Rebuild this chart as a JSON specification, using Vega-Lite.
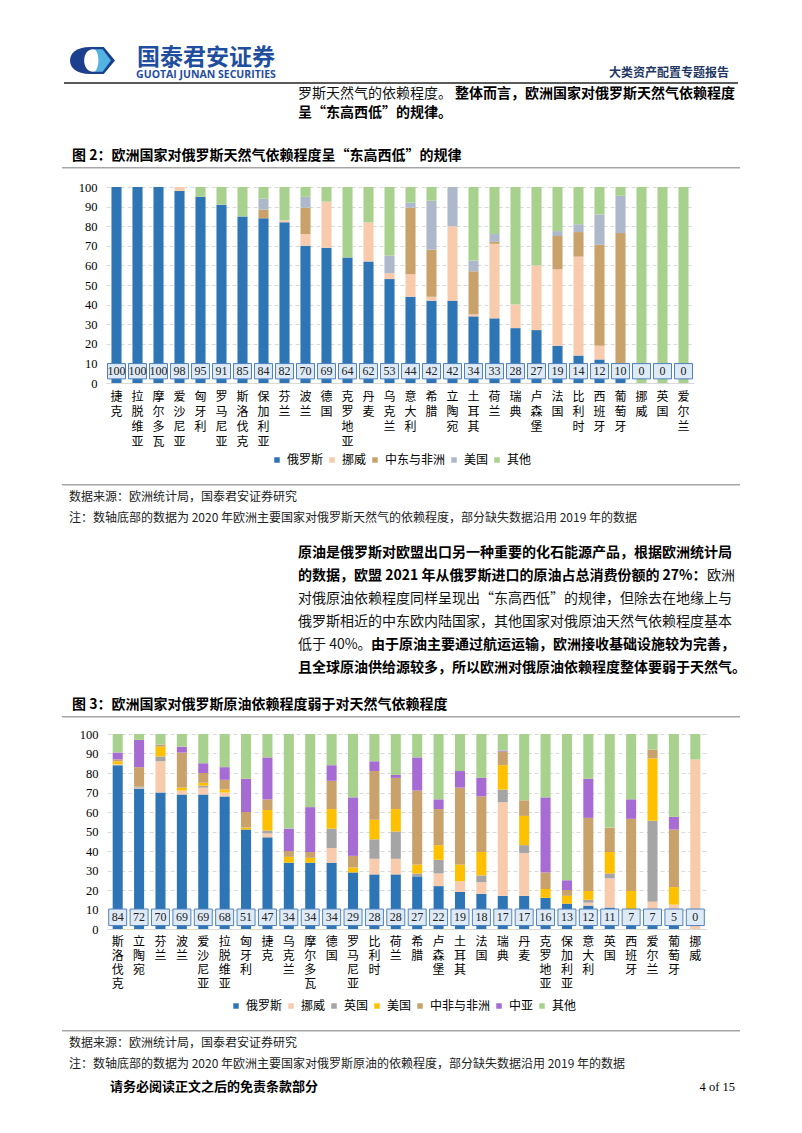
{
  "$schema": "https://vega.github.io/schema/vega-lite/v6.json",
  "background": "white",
  "padding": {"left": 62, "top": 43, "right": 0, "bottom": 0},
  "config": {
    "view": {"stroke": null},
    "font": "Noto Sans CJK SC",
    "concat": {"spacing": 0}
  },
  "resolve": {"scale": {"color": "independent"}, "legend": {"color": "independent"}},
  "datasets": {
    "gasSources": [
      {"source": "俄罗斯", "k": 1}, {"source": "挪威", "k": 2}, {"source": "中东与非洲", "k": 3},
      {"source": "美国", "k": 4}, {"source": "其他", "k": 5}
    ],
    "oilSources": [
      {"source": "俄罗斯", "k": 1}, {"source": "挪威", "k": 2}, {"source": "英国", "k": 3},
      {"source": "美国", "k": 4}, {"source": "中非与非洲", "k": 5}, {"source": "中亚", "k": 6}, {"source": "其他", "k": 7}
    ],
    "gas": [
      {"c": "捷克", "俄罗斯": 100, "挪威": 0, "中东与非洲": 0, "美国": 0, "其他": 0},
      {"c": "拉脱维亚", "俄罗斯": 100, "挪威": 0, "中东与非洲": 0, "美国": 0, "其他": 0},
      {"c": "摩尔多瓦", "俄罗斯": 100, "挪威": 0, "中东与非洲": 0, "美国": 0, "其他": 0},
      {"c": "爱沙尼亚", "俄罗斯": 98, "挪威": 2, "中东与非洲": 0, "美国": 0, "其他": 0},
      {"c": "匈牙利", "俄罗斯": 95, "挪威": 0, "中东与非洲": 0, "美国": 0, "其他": 5},
      {"c": "罗马尼亚", "俄罗斯": 91, "挪威": 0, "中东与非洲": 0, "美国": 0, "其他": 9},
      {"c": "斯洛伐克", "俄罗斯": 85, "挪威": 0, "中东与非洲": 0, "美国": 0, "其他": 15},
      {"c": "保加利亚", "俄罗斯": 84, "挪威": 0, "中东与非洲": 4.5, "美国": 5.5, "其他": 6},
      {"c": "芬兰", "俄罗斯": 82, "挪威": 1, "中东与非洲": 0, "美国": 0, "其他": 17},
      {"c": "波兰", "俄罗斯": 70, "挪威": 6, "中东与非洲": 13.5, "美国": 5.5, "其他": 5},
      {"c": "德国", "俄罗斯": 69, "挪威": 23.5, "中东与非洲": 0, "美国": 0, "其他": 7.5},
      {"c": "克罗地亚", "俄罗斯": 64, "挪威": 0, "中东与非洲": 0, "美国": 0, "其他": 36},
      {"c": "丹麦", "俄罗斯": 62, "挪威": 20, "中东与非洲": 0, "美国": 0, "其他": 18},
      {"c": "乌克兰", "俄罗斯": 53, "挪威": 3, "中东与非洲": 0, "美国": 9, "其他": 35},
      {"c": "意大利", "俄罗斯": 44, "挪威": 11.5, "中东与非洲": 34, "美国": 2.5, "其他": 8},
      {"c": "希腊", "俄罗斯": 42, "挪威": 2, "中东与非洲": 24, "美国": 25, "其他": 7},
      {"c": "立陶宛", "俄罗斯": 42, "挪威": 38, "中东与非洲": 0, "美国": 20, "其他": 0},
      {"c": "土耳其", "俄罗斯": 34, "挪威": 1, "中东与非洲": 22, "美国": 5.5, "其他": 37.5},
      {"c": "荷兰", "俄罗斯": 33, "挪威": 38, "中东与非洲": 1, "美国": 4, "其他": 24},
      {"c": "瑞典", "俄罗斯": 28, "挪威": 12, "中东与非洲": 0, "美国": 0, "其他": 60},
      {"c": "卢森堡", "俄罗斯": 27, "挪威": 33, "中东与非洲": 0, "美国": 0, "其他": 40},
      {"c": "法国", "俄罗斯": 19, "挪威": 39, "中东与非洲": 17, "美国": 2.5, "其他": 22.5},
      {"c": "比利时", "俄罗斯": 14, "挪威": 50.5, "中东与非洲": 12.5, "美国": 4, "其他": 19},
      {"c": "西班牙", "俄罗斯": 12, "挪威": 7, "中东与非洲": 51.5, "美国": 15.5, "其他": 14},
      {"c": "葡萄牙", "俄罗斯": 10, "挪威": 0, "中东与非洲": 66.5, "美国": 19, "其他": 4.5},
      {"c": "挪威", "俄罗斯": 0, "挪威": 0, "中东与非洲": 0, "美国": 0, "其他": 100},
      {"c": "英国", "俄罗斯": 0, "挪威": 0, "中东与非洲": 0, "美国": 0, "其他": 100},
      {"c": "爱尔兰", "俄罗斯": 0, "挪威": 0, "中东与非洲": 0, "美国": 0, "其他": 100}
    ],
    "oil": [
      {"c": "斯洛伐克", "俄罗斯": 84, "挪威": 0.5, "英国": 0, "美国": 1.5, "中非与非洲": 1, "中亚": 3.5, "其他": 9.5},
      {"c": "立陶宛", "俄罗斯": 72, "挪威": 0.5, "英国": 0.5, "美国": 0, "中非与非洲": 10, "中亚": 14, "其他": 3},
      {"c": "芬兰", "俄罗斯": 70, "挪威": 16, "英国": 2.5, "美国": 5, "中非与非洲": 1, "中亚": 0, "其他": 5.5},
      {"c": "波兰", "俄罗斯": 69, "挪威": 2, "英国": 0, "美国": 1.5, "中非与非洲": 18, "中亚": 3, "其他": 6.5},
      {"c": "爱沙尼亚", "俄罗斯": 69, "挪威": 3.5, "英国": 1, "美国": 1.5, "中非与非洲": 5, "中亚": 5, "其他": 15},
      {"c": "拉脱维亚", "俄罗斯": 68, "挪威": 2, "英国": 0, "美国": 1.5, "中非与非洲": 5, "中亚": 6.5, "其他": 17},
      {"c": "匈牙利", "俄罗斯": 51, "挪威": 0, "英国": 0, "美国": 1, "中非与非洲": 8, "中亚": 17, "其他": 23},
      {"c": "捷克", "俄罗斯": 47, "挪威": 2, "英国": 1.5, "美国": 10.5, "中非与非洲": 5.5, "中亚": 21.5, "其他": 12},
      {"c": "乌克兰", "俄罗斯": 34, "挪威": 0, "英国": 0, "美国": 3, "中非与非洲": 3, "中亚": 11.5, "其他": 48.5},
      {"c": "摩尔多瓦", "俄罗斯": 34, "挪威": 0, "英国": 0, "美国": 2.5, "中非与非洲": 3, "中亚": 23, "其他": 37.5},
      {"c": "德国", "俄罗斯": 34, "挪威": 7.5, "英国": 10, "美国": 10, "中非与非洲": 14.5, "中亚": 8, "其他": 16},
      {"c": "罗马尼亚", "俄罗斯": 29, "挪威": 0, "英国": 0, "美国": 2.5, "中非与非洲": 6, "中亚": 30, "其他": 32.5},
      {"c": "比利时", "俄罗斯": 28, "挪威": 8, "英国": 10, "美国": 10, "中非与非洲": 25, "中亚": 5, "其他": 14},
      {"c": "荷兰", "俄罗斯": 28, "挪威": 8, "英国": 14, "美国": 11.5, "中非与非洲": 16, "中亚": 1.5, "其他": 21},
      {"c": "希腊", "俄罗斯": 27, "挪威": 0, "英国": 1.5, "美国": 4.5, "中非与非洲": 38, "中亚": 17, "其他": 12},
      {"c": "卢森堡", "俄罗斯": 22, "挪威": 6.5, "英国": 7, "美国": 7.5, "中非与非洲": 18.5, "中亚": 5, "其他": 33.5},
      {"c": "土耳其", "俄罗斯": 19, "挪威": 5.5, "英国": 0, "美国": 8.5, "中非与非洲": 39.5, "中亚": 8.5, "其他": 19},
      {"c": "法国", "俄罗斯": 18, "挪威": 6, "英国": 3.5, "美国": 12, "中非与非洲": 28.5, "中亚": 9.5, "其他": 22.5},
      {"c": "瑞典", "俄罗斯": 17, "挪威": 48, "英国": 6.5, "美国": 12.5, "中非与非洲": 7, "中亚": 0.5, "其他": 8.5},
      {"c": "丹麦", "俄罗斯": 17, "挪威": 22, "英国": 4, "美国": 15, "中非与非洲": 8, "中亚": 0, "其他": 34},
      {"c": "克罗地亚", "俄罗斯": 16, "挪威": 0, "英国": 0, "美国": 4.5, "中非与非洲": 8.5, "中亚": 38.5, "其他": 32.5},
      {"c": "保加利亚", "俄罗斯": 13, "挪威": 0, "英国": 0, "美国": 4, "中非与非洲": 3, "中亚": 5, "其他": 75},
      {"c": "意大利", "俄罗斯": 12, "挪威": 1.5, "英国": 1.5, "美国": 4.5, "中非与非洲": 37.5, "中亚": 20, "其他": 23},
      {"c": "英国", "俄罗斯": 11, "挪威": 15, "英国": 2.5, "美国": 11, "中非与非洲": 12.5, "中亚": 0, "其他": 48},
      {"c": "西班牙", "俄罗斯": 7, "挪威": 1.5, "英国": 1, "美国": 10, "中非与非洲": 37, "中亚": 10, "其他": 33.5},
      {"c": "爱尔兰", "俄罗斯": 7, "挪威": 7, "英国": 41.5, "美国": 32, "中非与非洲": 4.5, "中亚": 0, "其他": 8},
      {"c": "葡萄牙", "俄罗斯": 5, "挪威": 7.5, "英国": 0, "美国": 9, "中非与非洲": 29.5, "中亚": 6.5, "其他": 42.5},
      {"c": "挪威", "俄罗斯": 0, "挪威": 87, "英国": 0, "美国": 0, "中非与非洲": 0, "中亚": 0, "其他": 13}
    ]
  },
  "spacing": 0,
  "vconcat": [
    {
      "spacing": 0,
      "hconcat": [
        {"width": 8, "height": 39, "data": {"values": []}, "mark": "text", "encoding": {"text": {"value": ""}}},
        {
          "width": 45, "height": 35, "data": {"values": [{}]},
          "layer": [
            {"mark": {"type": "point", "shape": "M -0.1 -0.6 C -0.75 -0.6 -1 -0.3 -1 0 C -1 0.3 -0.75 0.6 -0.1 0.6 L 0.5 0.6 L 1 0 L 0.5 -0.6 Z", "size": 2025, "filled": true, "fill": "#1C3F8E", "stroke": null, "opacity": 1}, "encoding": {}},
            {"mark": {"type": "point", "shape": "M 0.02 -0.5 C -0.5 -0.5 -0.5 0.5 0.02 0.5 C 0.55 0.5 0.55 -0.5 0.02 -0.5 Z", "size": 2025, "filled": true, "fill": "#FFFFFF", "stroke": null, "opacity": 1}, "encoding": {}},
            {"mark": {"type": "point", "shape": "M 0.1 -0.5 L 0.45 -0.5 L 0.82 0 L 0.45 0.5 L 0.1 0.5 C 0.32 0.3 0.32 -0.3 0.1 -0.5 Z", "size": 2025, "filled": true, "fill": "#55B3E3", "stroke": null, "opacity": 1}, "encoding": {}}
          ]
        },
        {"width": 13, "height": 1, "data": {"values": []}, "mark": "text", "encoding": {"text": {"value": ""}}},
        {
          "width": 156, "height": 39,
          "data": {"values": [{"part": "cn", "t": "国泰君安证券"}, {"part": "en", "t": "GUOTAI JUNAN SECURITIES"}]},
          "encoding": {
            "y": {"field": "part", "type": "nominal", "axis": null, "scale": {"type": "point", "domain": ["cn", "en"], "padding": 0.682, "align": 0.667}},
            "text": {"field": "t"}
          },
          "layer": [
            {"transform": [{"filter": "datum.part == 'cn'"}], "mark": {"type": "text", "fontSize": 23, "fontWeight": "bold", "color": "#1F4E9F"}},
            {"transform": [{"filter": "datum.part == 'en'"}], "mark": {"type": "text", "fontSize": 10.5, "fontWeight": "bold", "font": "Open Sans", "color": "#1F4E9F"}}
          ]
        },
        {"width": 324, "height": 1, "data": {"values": []}, "mark": "text", "encoding": {"text": {"value": ""}}},
        {
          "width": 122, "height": 39,
          "data": {"values": [{"part": "report", "t": "大类资产配置专题报告"}]},
          "mark": {"type": "text", "fontSize": 12, "fontWeight": "bold", "color": "#1F3864"},
          "encoding": {
            "y": {"field": "part", "type": "nominal", "axis": null, "scale": {"type": "point", "align": 0.77}},
            "text": {"field": "t"}
          }
        }
      ]
    },
    {
      "spacing": 0,
      "hconcat": [
        {"width": 2, "height": 2, "data": {"values": []}, "mark": "text", "encoding": {"text": {"value": ""}}},
        {"width": 674, "height": 2, "view": {"fill": "#5A5A5A", "stroke": null}, "data": {"values": []}, "mark": "text", "encoding": {"text": {"value": ""}}}
      ]
    },
    {
      "spacing": 0,
      "hconcat": [
        {"width": 236, "height": 1, "data": {"values": []}, "mark": "text", "encoding": {"text": {"value": ""}}},
        {
          "width": 437, "height": 38,
          "data": {"values": [
            {"line": 1, "side": "start", "kind": "body", "text": "罗斯天然气的依赖程度。"},
            {"line": 1, "side": "end", "kind": "key", "text": "整体而言，欧洲国家对俄罗斯天然气依赖程度"},
            {"line": 2, "side": "start", "kind": "key", "text": "呈“东高西低”的规律。"}
          ]},
          "encoding": {
            "y": {"field": "line", "type": "ordinal", "axis": null},
            "x": {"field": "side", "type": "nominal", "axis": null, "scale": {"type": "point", "padding": 0, "domain": ["start", "end"]}},
            "text": {"field": "text"}
          },
          "layer": [
            {"transform": [{"filter": "datum.side == 'start' && datum.kind == 'body'"}], "mark": {"type": "text", "align": "left", "fontSize": 14, "color": "#111"}},
            {"transform": [{"filter": "datum.side == 'start' && datum.kind == 'key'"}], "mark": {"type": "text", "align": "left", "fontSize": 14, "fontWeight": "bold", "color": "#000"}},
            {"transform": [{"filter": "datum.side == 'end' && datum.kind == 'key'"}], "mark": {"type": "text", "align": "right", "fontSize": 14, "fontWeight": "bold", "color": "#000"}}
          ]
        }
      ]
    },
    {"width": 10, "height": 23, "data": {"values": []}, "mark": "text", "encoding": {"text": {"value": ""}}},
    {
      "spacing": 0,
      "hconcat": [
        {"width": 10, "height": 1, "data": {"values": []}, "mark": "text", "encoding": {"text": {"value": ""}}},
        {
          "width": 600, "height": 22,
          "data": {"values": [{"line": 1, "side": "start", "text": "图 2：欧洲国家对俄罗斯天然气依赖程度呈“东高西低”的规律"}]},
          "mark": {"type": "text", "align": "left", "fontSize": 14, "fontWeight": "bold", "color": "#000"},
          "encoding": {
            "y": {"field": "line", "type": "ordinal", "axis": null},
            "x": {"field": "side", "type": "nominal", "axis": null, "scale": {"type": "point", "padding": 0, "domain": ["start", "end"]}},
            "text": {"field": "text"}
          }
        }
      ]
    },
    {"width": 678, "height": 1.5, "view": {"fill": "#A6A6A6", "stroke": null}, "data": {"values": []}, "mark": "text", "encoding": {"text": {"value": ""}}},
    {"width": 10, "height": 12, "data": {"values": []}, "mark": "text", "encoding": {"text": {"value": ""}}},
    {
      "spacing": 0,
      "hconcat": [
        {"width": 15.25, "height": 1, "data": {"values": []}, "mark": "text", "encoding": {"text": {"value": ""}}},
        {
          "width": 588, "height": 196,
          "data": {"name": "gas"},
          "transform": [
            {"fold": ["俄罗斯", "挪威", "中东与非洲", "美国", "其他"], "as": ["source", "value"]},
            {"lookup": "source", "from": {"data": {"name": "gasSources"}, "key": "source", "fields": ["k"]}}
          ],
          "encoding": {
            "x": {
              "field": "c", "type": "nominal", "sort": null,
              "scale": {"paddingInner": 0.52, "paddingOuter": 0.26},
              "axis": {"title": null, "labelAngle": 0, "labelExpr": "split(datum.label, '')", "labelLineHeight": 15, "labelBaseline": "top", "labelPadding": 8, "ticks": false, "domainColor": "#D9D9D9", "labelFontSize": 12, "labelColor": "#000", "labelOverlap": false, "labelBound": false, "labelFlush": false}
            }
          },
          "layer": [
            {
              "mark": {"type": "bar"},
              "encoding": {
                "y": {"field": "value", "type": "quantitative", "stack": "zero", "scale": {"domain": [0, 100]},
                  "axis": {"title": null, "values": [0, 10, 20, 30, 40, 50, 60, 70, 80, 90, 100], "labelOverlap": false, "labelFont": "Liberation Serif", "labelFontSize": 12.5, "labelColor": "#000", "domain": false, "ticks": false, "labelPadding": 9, "gridDash": [4, 3], "gridColor": "#D9D9D9"}},
                "color": {"field": "source", "type": "nominal",
                  "scale": {"domain": ["俄罗斯", "挪威", "中东与非洲", "美国", "其他"], "range": ["#2E75B6", "#F8CBAD", "#C9A26B", "#ADB9CA", "#A9D18E"]},
                  "legend": {"title": null, "orient": "none", "legendX": 209, "legendY": 267, "direction": "horizontal", "symbolType": "square", "symbolSize": 30, "symbolStrokeWidth": 0, "labelFontSize": 12, "labelColor": "#000", "columnPadding": 2, "labelOffset": 4}},
                "order": {"field": "k", "type": "quantitative"}
              }
            },
            {
              "transform": [{"filter": "datum.source == '俄罗斯'"}],
              "mark": {"type": "point", "shape": "M -1 -0.85 L 1 -0.85 L 1 0.85 L -1 0.85 Z", "size": 324, "filled": true, "fill": "#DEEBF7", "stroke": "#4F81BD", "strokeWidth": 1, "opacity": 1},
              "encoding": {"y": {"datum": 6, "type": "quantitative",
                "axis": {"title": null, "values": [0, 10, 20, 30, 40, 50, 60, 70, 80, 90, 100], "labelOverlap": false, "labelFont": "Liberation Serif", "labelFontSize": 12.5, "labelColor": "#000", "domain": false, "ticks": false, "labelPadding": 9, "gridDash": [4, 3], "gridColor": "#D9D9D9"}}}
            },
            {
              "transform": [{"filter": "datum.source == '俄罗斯'"}],
              "mark": {"type": "text", "font": "Liberation Serif", "fontSize": 12, "color": "#222"},
              "encoding": {"y": {"datum": 6, "type": "quantitative",
                "axis": {"title": null, "values": [0, 10, 20, 30, 40, 50, 60, 70, 80, 90, 100], "labelOverlap": false, "labelFont": "Liberation Serif", "labelFontSize": 12.5, "labelColor": "#000", "domain": false, "ticks": false, "labelPadding": 9, "gridDash": [4, 3], "gridColor": "#D9D9D9"}},
                "text": {"field": "value", "type": "quantitative"}}
            }
          ]
        }
      ]
    },
    {"width": 10, "height": 17.5, "data": {"values": []}, "mark": "text", "encoding": {"text": {"value": ""}}},
    {"width": 678, "height": 1.5, "view": {"fill": "#A6A6A6", "stroke": null}, "data": {"values": []}, "mark": "text", "encoding": {"text": {"value": ""}}},
    {
      "spacing": 0,
      "hconcat": [
        {"width": 7, "height": 1, "data": {"values": []}, "mark": "text", "encoding": {"text": {"value": ""}}},
        {
          "width": 660, "height": 42,
          "data": {"values": [
            {"line": 1, "side": "start", "text": "数据来源：欧洲统计局，国泰君安证券研究"},
            {"line": 2, "side": "start", "text": "注：数轴底部的数据为 2020 年欧洲主要国家对俄罗斯天然气的依赖程度，部分缺失数据沿用 2019 年的数据"}
          ]},
          "mark": {"type": "text", "align": "left", "fontSize": 12, "color": "#222"},
          "encoding": {
            "y": {"field": "line", "type": "ordinal", "axis": null},
            "x": {"field": "side", "type": "nominal", "axis": null, "scale": {"type": "point", "padding": 0, "domain": ["start", "end"]}},
            "text": {"field": "text"}
          }
        }
      ]
    },
    {"width": 10, "height": 12.5, "data": {"values": []}, "mark": "text", "encoding": {"text": {"value": ""}}},
    {
      "spacing": 0,
      "hconcat": [
        {"width": 236, "height": 1, "data": {"values": []}, "mark": "text", "encoding": {"text": {"value": ""}}},
        {
          "width": 437, "height": 138,
          "data": {"values": [
            {"line": 1, "side": "start", "kind": "key", "text": "原油是俄罗斯对欧盟出口另一种重要的化石能源产品，根据欧洲统计局"},
            {"line": 2, "side": "start", "kind": "key", "text": "的数据，欧盟 2021 年从俄罗斯进口的原油占总消费份额的 27%："},
            {"line": 2, "side": "end", "kind": "body", "text": "欧洲"},
            {"line": 3, "side": "start", "kind": "body", "text": "对俄原油依赖程度同样呈现出“东高西低”的规律，但除去在地缘上与"},
            {"line": 4, "side": "start", "kind": "body", "text": "俄罗斯相近的中东欧内陆国家，其他国家对俄原油天然气依赖程度基本"},
            {"line": 5, "side": "start", "kind": "body", "text": "低于 40%。"},
            {"line": 5, "side": "end", "kind": "key", "text": "由于原油主要通过航运运输，欧洲接收基础设施较为完善，"},
            {"line": 6, "side": "start", "kind": "key", "text": "且全球原油供给源较多，所以欧洲对俄原油依赖程度整体要弱于天然气。"}
          ]},
          "encoding": {
            "y": {"field": "line", "type": "ordinal", "axis": null},
            "x": {"field": "side", "type": "nominal", "axis": null, "scale": {"type": "point", "padding": 0, "domain": ["start", "end"]}},
            "text": {"field": "text"}
          },
          "layer": [
            {"transform": [{"filter": "datum.side == 'start' && datum.kind == 'body'"}], "mark": {"type": "text", "align": "left", "fontSize": 14, "color": "#111"}},
            {"transform": [{"filter": "datum.side == 'start' && datum.kind == 'key'"}], "mark": {"type": "text", "align": "left", "fontSize": 14, "fontWeight": "bold", "color": "#000"}},
            {"transform": [{"filter": "datum.side == 'end' && datum.kind == 'body'"}], "mark": {"type": "text", "align": "right", "fontSize": 14, "color": "#111"}},
            {"transform": [{"filter": "datum.side == 'end' && datum.kind == 'key'"}], "mark": {"type": "text", "align": "right", "fontSize": 14, "fontWeight": "bold", "color": "#000"}}
          ]
        }
      ]
    },
    {"width": 10, "height": 14.5, "data": {"values": []}, "mark": "text", "encoding": {"text": {"value": ""}}},
    {
      "spacing": 0,
      "hconcat": [
        {"width": 10, "height": 1, "data": {"values": []}, "mark": "text", "encoding": {"text": {"value": ""}}},
        {
          "width": 600, "height": 22,
          "data": {"values": [{"line": 1, "side": "start", "text": "图 3：欧洲国家对俄罗斯原油依赖程度弱于对天然气依赖程度"}]},
          "mark": {"type": "text", "align": "left", "fontSize": 14, "fontWeight": "bold", "color": "#000"},
          "encoding": {
            "y": {"field": "line", "type": "ordinal", "axis": null},
            "x": {"field": "side", "type": "nominal", "axis": null, "scale": {"type": "point", "padding": 0, "domain": ["start", "end"]}},
            "text": {"field": "text"}
          }
        }
      ]
    },
    {"width": 678, "height": 1.5, "view": {"fill": "#A6A6A6", "stroke": null}, "data": {"values": []}, "mark": "text", "encoding": {"text": {"value": ""}}},
    {"width": 10, "height": 9.5, "data": {"values": []}, "mark": "text", "encoding": {"text": {"value": ""}}},
    {
      "spacing": 0,
      "hconcat": [
        {"width": 16.25, "height": 1, "data": {"values": []}, "mark": "text", "encoding": {"text": {"value": ""}}},
        {
          "width": 599, "height": 195,
          "data": {"name": "oil"},
          "transform": [
            {"fold": ["俄罗斯", "挪威", "英国", "美国", "中非与非洲", "中亚", "其他"], "as": ["source", "value"]},
            {"lookup": "source", "from": {"data": {"name": "oilSources"}, "key": "source", "fields": ["k"]}}
          ],
          "encoding": {
            "x": {
              "field": "c", "type": "nominal", "sort": null,
              "scale": {"paddingInner": 0.53, "paddingOuter": 0.265},
              "axis": {"title": null, "labelAngle": 0, "labelExpr": "split(datum.label, '')", "labelLineHeight": 14, "labelBaseline": "top", "labelPadding": 7, "ticks": false, "domainColor": "#D9D9D9", "labelFontSize": 12, "labelColor": "#000", "labelOverlap": false, "labelBound": false, "labelFlush": false}
            }
          },
          "layer": [
            {
              "mark": {"type": "bar"},
              "encoding": {
                "y": {"field": "value", "type": "quantitative", "stack": "zero", "scale": {"domain": [0, 100]},
                  "axis": {"title": null, "values": [0, 10, 20, 30, 40, 50, 60, 70, 80, 90, 100], "labelOverlap": false, "labelFont": "Liberation Serif", "labelFontSize": 12.5, "labelColor": "#000", "domain": false, "ticks": false, "labelPadding": 9, "gridDash": [4, 3], "gridColor": "#D9D9D9"}},
                "color": {"field": "source", "type": "nominal",
                  "scale": {"domain": ["俄罗斯", "挪威", "英国", "美国", "中非与非洲", "中亚", "其他"], "range": ["#2E75B6", "#F8CBAD", "#A5A5A5", "#FFC000", "#C9A26B", "#A66CD4", "#A9D18E"]},
                  "legend": {"title": null, "orient": "none", "legendX": 168, "legendY": 266, "direction": "horizontal", "symbolType": "square", "symbolSize": 30, "symbolStrokeWidth": 0, "labelFontSize": 12, "labelColor": "#000", "columnPadding": 2, "labelOffset": 4}},
                "order": {"field": "k", "type": "quantitative"}
              }
            },
            {
              "transform": [{"filter": "datum.source == '俄罗斯'"}],
              "mark": {"type": "point", "shape": "M -1 -0.92 L 1 -0.92 L 1 0.92 L -1 0.92 Z", "size": 324, "filled": true, "fill": "#DEEBF7", "stroke": "#4F81BD", "strokeWidth": 1, "opacity": 1},
              "encoding": {"y": {"datum": 6, "type": "quantitative",
                "axis": {"title": null, "values": [0, 10, 20, 30, 40, 50, 60, 70, 80, 90, 100], "labelOverlap": false, "labelFont": "Liberation Serif", "labelFontSize": 12.5, "labelColor": "#000", "domain": false, "ticks": false, "labelPadding": 9, "gridDash": [4, 3], "gridColor": "#D9D9D9"}}}
            },
            {
              "transform": [{"filter": "datum.source == '俄罗斯'"}],
              "mark": {"type": "text", "font": "Liberation Serif", "fontSize": 12, "color": "#222"},
              "encoding": {"y": {"datum": 6, "type": "quantitative",
                "axis": {"title": null, "values": [0, 10, 20, 30, 40, 50, 60, 70, 80, 90, 100], "labelOverlap": false, "labelFont": "Liberation Serif", "labelFontSize": 12.5, "labelColor": "#000", "domain": false, "ticks": false, "labelPadding": 9, "gridDash": [4, 3], "gridColor": "#D9D9D9"}},
                "text": {"field": "value", "type": "quantitative"}}
            }
          ]
        }
      ]
    },
    {"width": 10, "height": 18, "data": {"values": []}, "mark": "text", "encoding": {"text": {"value": ""}}},
    {"width": 678, "height": 1.5, "view": {"fill": "#A6A6A6", "stroke": null}, "data": {"values": []}, "mark": "text", "encoding": {"text": {"value": ""}}},
    {
      "spacing": 0,
      "hconcat": [
        {"width": 7, "height": 1, "data": {"values": []}, "mark": "text", "encoding": {"text": {"value": ""}}},
        {
          "width": 660, "height": 42,
          "data": {"values": [
            {"line": 1, "side": "start", "text": "数据来源：欧洲统计局，国泰君安证券研究"},
            {"line": 2, "side": "start", "text": "注：数轴底部的数据为 2020 年欧洲主要国家对俄罗斯原油的依赖程度，部分缺失数据沿用 2019 年的数据"}
          ]},
          "mark": {"type": "text", "align": "left", "fontSize": 12, "color": "#222"},
          "encoding": {
            "y": {"field": "line", "type": "ordinal", "axis": null},
            "x": {"field": "side", "type": "nominal", "axis": null, "scale": {"type": "point", "padding": 0, "domain": ["start", "end"]}},
            "text": {"field": "text"}
          }
        }
      ]
    },
    {
      "spacing": 0,
      "hconcat": [
        {"width": 48, "height": 1, "data": {"values": []}, "mark": "text", "encoding": {"text": {"value": ""}}},
        {
          "width": 625, "height": 25,
          "data": {"values": [
            {"line": 1, "side": "start", "text": "请务必阅读正文之后的免责条款部分"},
            {"line": 1, "side": "end", "text": "4 of 15"}
          ]},
          "encoding": {
            "y": {"field": "line", "type": "ordinal", "axis": null},
            "x": {"field": "side", "type": "nominal", "axis": null, "scale": {"type": "point", "padding": 0, "domain": ["start", "end"]}},
            "text": {"field": "text"}
          },
          "layer": [
            {"transform": [{"filter": "datum.side == 'start'"}], "mark": {"type": "text", "align": "left", "fontSize": 13, "fontWeight": "bold", "color": "#000"}},
            {"transform": [{"filter": "datum.side == 'end'"}], "mark": {"type": "text", "align": "right", "font": "Liberation Serif", "fontSize": 12.5, "color": "#000"}}
          ]
        }
      ]
    }
  ]
}
